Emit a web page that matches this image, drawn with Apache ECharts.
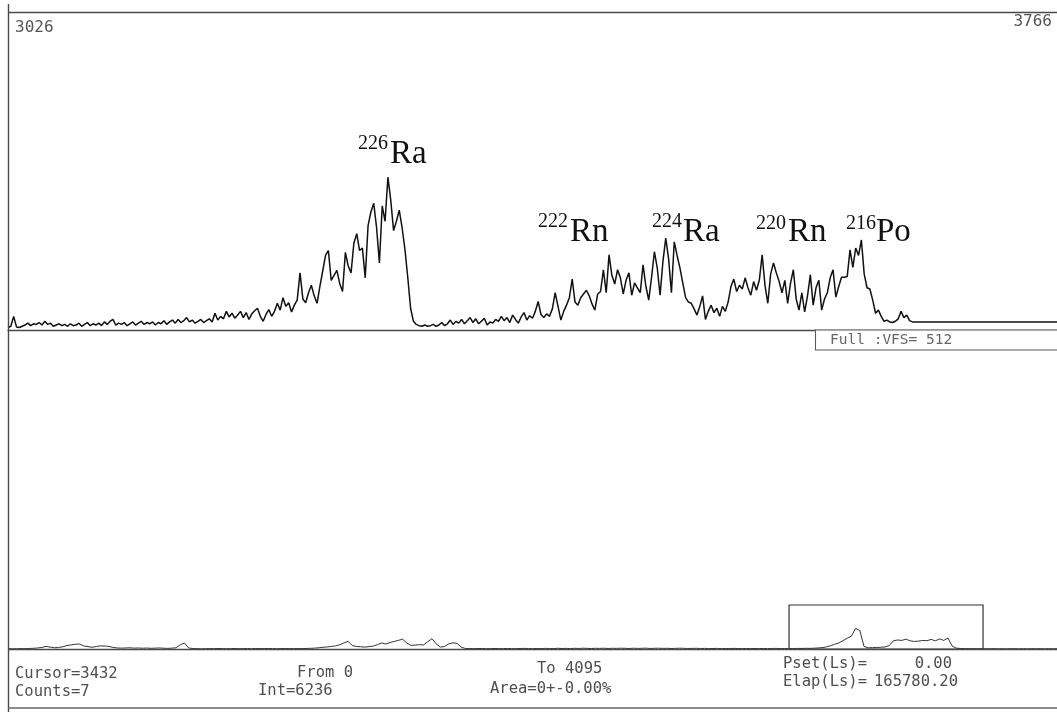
<!DOCTYPE html>
<html>
<head>
<meta charset="utf-8">
<title>Alpha spectrum</title>
<script src="https://cdn.jsdelivr.net/npm/echarts@6/dist/echarts.min.js"></script>
<style>
  html, body { margin: 0; padding: 0; background: #ffffff; }
  #chart { width: 1057px; height: 712px; }
</style>
</head>
<body>
<div id="chart"></div>
<script>
// ---- zoomed window of the spectrum (ADC channels, 2 channels per value) ----
const zoomFrom = 3026;
const zoomTo = 3766;
const zoomStep = 2;
const zoomCounts = [
  4, 6, 22, 5, 4, 6, 8, 11, 7, 10,
  9, 12, 8, 14, 9, 11, 6, 8, 10, 7,
  9, 6, 10, 7, 8, 11, 6, 9, 12, 7,
  10, 8, 11, 7, 13, 9, 14, 17, 8, 11,
  9, 12, 7, 10, 13, 8, 11, 14, 9, 12,
  10, 13, 8, 12, 10, 15, 9, 13, 16, 11,
  17, 12, 15, 20, 13, 16, 11, 14, 17, 12,
  15, 18, 13, 27, 16, 22, 18, 30, 21, 27,
  19, 24, 30, 20, 28, 17, 26, 31, 35, 22,
  14, 25, 33, 22, 30, 43, 32, 52, 38, 44,
  29, 40, 48, 92, 50, 44, 60, 72, 55, 43,
  70, 95, 120, 128, 80, 88, 96, 75, 62, 125,
  103, 92, 140, 155, 128, 132, 84, 168, 190, 204,
  165, 108, 200, 175, 246, 209, 160, 175, 193, 165,
  130, 85, 35, 14, 9, 7, 6, 8, 6, 7,
  9, 6, 8, 12, 7, 10, 16, 9, 14, 11,
  17, 10, 15, 20, 12, 18, 10, 14, 19, 8,
  13, 11, 17, 14, 22, 15, 20, 12, 24, 17,
  11, 21, 28, 16, 23, 19, 30, 46, 25, 20,
  26, 22, 34, 60, 38, 16, 30, 40, 52, 82,
  45, 40, 52, 58, 64, 55, 42, 32, 58, 62,
  97, 60, 121, 88, 74, 97, 84, 58, 80, 92,
  56, 76, 68, 60, 105, 70, 48, 85, 126, 100,
  56, 110, 148, 115, 60, 142, 120, 100, 76, 52,
  45, 43, 34, 24, 38, 55, 17, 30, 40, 28,
  35, 22, 38, 30, 45, 70, 82, 62, 72, 66,
  84, 68, 56, 78, 64, 80, 121, 72, 43, 90,
  108, 92, 78, 60, 80, 43, 75, 97, 50, 32,
  60, 29, 55, 89, 40, 68, 80, 32, 50, 60,
  84, 97, 53, 70, 85, 85, 86, 129, 101, 132,
  120, 145, 90, 68, 66, 48, 27, 32, 22, 14,
  16, 13, 12, 14, 18, 30, 20, 24, 15, 13,
  13, 13, 13, 13, 13, 13, 13, 13, 13, 13,
  13, 13, 13, 13, 13, 13, 13, 13, 13, 13,
  13, 13, 13, 13, 13, 13, 13, 13, 13, 13,
  13, 13, 13, 13, 13, 13, 13, 13, 13, 13,
  13, 13, 13, 13, 13, 13, 13, 13, 13, 13,
  13
];

// ---- full-range overview (channels 48..4080, 16 channels per value) ----
const overviewFrom = 48;
const overviewStep = 16;
const overviewCounts = [
  3, 4, 3, 5, 4, 6, 8, 12, 18, 30,
  22, 14, 18, 26, 40, 48, 56, 58, 36,
  28, 20, 30, 36, 34, 30, 18, 12, 10, 12,
  14, 10, 12, 9, 11, 8, 10, 12, 9, 7,
  10, 14, 50, 70, 12, 5, 4, 3,
  4, 5, 4, 6, 5, 4, 5, 6, 4, 5, 5, 4, 6, 5,
  5, 6, 5, 4, 5, 6, 5, 5, 6, 5, 6,
  8, 10, 14, 20, 24, 30, 36, 50, 70, 90,
  40, 30, 26, 22, 28, 34, 50, 70, 58, 75,
  88, 100, 115, 70, 42, 46, 50, 48, 85, 120, 60,
  22, 30, 60, 72, 66, 20, 6,
  5, 4, 6, 5, 4, 5, 6, 4, 5, 6,
  5, 4, 6, 7, 5, 4, 6, 5, 7, 6,
  5, 8, 6, 7, 5, 8, 6, 9, 7, 6,
  8, 7, 9, 6, 8,
  7, 9, 8, 6, 9, 7, 8, 10, 6, 8,
  9, 7, 8, 6, 7, 9, 8, 6, 7, 8,
  6, 7, 5, 6, 7, 5, 6, 5, 7, 6,
  5, 6, 5, 6, 5, 6, 5, 6, 7, 5,
  6, 5,
  5, 7, 6, 8, 7, 9, 12, 16, 24, 38,
  55, 70, 98, 125, 150, 240, 215, 30, 14, 16,
  18, 20, 24, 40, 95, 105, 100, 115, 95, 88,
  92, 100, 96, 112, 95, 118, 100, 128, 35, 10,
  6, 4,
  3, 4, 3, 4, 4, 3, 4, 3, 4, 3, 4, 4, 3, 4, 3, 4, 3, 4, 3, 4, 3, 4, 3, 4
];

// vertical full scale of the display
const fullScale = 512;
const overviewMax = 4095;

// peak annotations: mass number + element
const peakMass = ['226', '222', '224', '220', '216'];
const peakElement = ['Ra', 'Rn', 'Ra', 'Rn', 'Po'];

// status line read-outs
const cursorChannel = 3432;
const cursorCounts = 7;
const rangeFrom = 0;
const rangeTo = 4095;
const integral = 6236;
const areaText = '0+-0.00%';
const presetLive = '0.00';
const elapsedLive = '165780.20';

const zoomData = zoomCounts.map((c, i) => [zoomFrom + i * zoomStep, c]);
const overviewData = overviewCounts.map((c, i) => [overviewFrom + i * overviewStep, c]);

const chart = echarts.init(document.getElementById('chart'), null, { renderer: 'canvas' });

const INK = '#111111';
const FRAME = '#4a4a4a';
const MONO = '"DejaVu Sans Mono", "Liberation Mono", monospace';
const SERIF = '"Liberation Serif", "Times New Roman", serif';

// label placement (left edge of mass number / element, baselines)
const peakLayout = [
  { sx: 358, sy: 150, ex: 390, ey: 165 },
  { sx: 538, sy: 228, ex: 570, ey: 243 },
  { sx: 652, sy: 228, ex: 683, ey: 243 },
  { sx: 756, sy: 230, ex: 788, ey: 243 },
  { sx: 846, sy: 230, ex: 876, ey: 243 }
];
const SUP_SIZE = 20, EL_SIZE = 33;

function txt(x, y, text, size, family, align, color) {
  return {
    type: 'text', x: x, y: y, silent: true, z: 10,
    style: {
      text: text, font: size + 'px ' + family, fill: color || '#4f4f4f',
      textAlign: align || 'left', textVerticalAlign: 'middle'
    }
  };
}
function hline(x1, x2, y, w, c) {
  return { type: 'line', silent: true, z: 5,
    shape: { x1: x1, y1: y, x2: x2, y2: y },
    style: { stroke: c || FRAME, lineWidth: w || 1.2 } };
}

const graphics = [];
// outer frame and overview baseline
graphics.push({ type: 'line', silent: true, z: 5,
  shape: { x1: 8.5, y1: 4, x2: 8.5, y2: 712 }, style: { stroke: FRAME, lineWidth: 1.4 } });
graphics.push(hline(8, 1057, 12.5, 1.6));
graphics.push(hline(8, 1057, 708, 1.4, '#666'));
graphics.push(hline(8, 1057, 649.5, 1.4));

// range extents of the zoom window
graphics.push(txt(15, 28, String(zoomFrom), 16, MONO, 'left', '#555'));
graphics.push(txt(1052, 22, String(zoomTo), 16, MONO, 'right', '#555'));

// peak labels
peakMass.forEach((m, k) => {
  const p = peakLayout[k];
  graphics.push(txt(p.sx, p.sy - 0.31 * SUP_SIZE, m, SUP_SIZE, SERIF, 'left', INK));
  graphics.push(txt(p.ex, p.ey - 0.31 * EL_SIZE, peakElement[k], EL_SIZE, SERIF, 'left', INK));
});

// vertical full-scale box
graphics.push({ type: 'rect', silent: true, z: 6,
  shape: { x: 815.5, y: 330, width: 260, height: 20 },
  style: { fill: '#ffffff', stroke: '#5a5a5a', lineWidth: 1.1 } });
graphics.push(txt(830, 340, 'Full :VFS= ' + fullScale, 14.5, MONO, 'left', '#666'));

// status read-outs
graphics.push(txt(15, 674, 'Cursor=' + cursorChannel, 15.5, MONO, 'left'));
graphics.push(txt(15, 692, 'Counts=' + cursorCounts, 15.5, MONO, 'left'));
graphics.push(txt(297, 673, 'From ' + rangeFrom, 15.5, MONO, 'left'));
graphics.push(txt(258, 691, 'Int=' + integral, 15.5, MONO, 'left'));
graphics.push(txt(537, 669, 'To ' + rangeTo, 15.5, MONO, 'left'));
graphics.push(txt(490, 689, 'Area=' + areaText, 15.5, MONO, 'left'));
graphics.push(txt(783, 664, 'Pset(Ls)=', 15.5, MONO, 'left'));
graphics.push(txt(952, 664, presetLive, 15.5, MONO, 'right'));
graphics.push(txt(783, 682, 'Elap(Ls)=', 15.5, MONO, 'left'));
graphics.push(txt(958, 682, elapsedLive, 15.5, MONO, 'right'));

const option = {
  animation: false,
  backgroundColor: '#ffffff',
  grid: [
    { left: 8, width: 1049, top: 12, height: 318, outerBoundsMode: 'none' },
    { left: -4.3, width: 1073.6, top: 605, height: 44, outerBoundsMode: 'none' }
  ],
  xAxis: [
    { type: 'value', gridIndex: 0, min: zoomFrom, max: zoomTo,
      axisLine: { show: true, onZero: false, lineStyle: { color: FRAME, width: 1.4 } },
      axisTick: { show: false }, axisLabel: { show: false }, splitLine: { show: false } },
    { type: 'value', gridIndex: 1, min: 0, max: overviewMax,
      axisLine: { show: false },
      axisTick: { show: false }, axisLabel: { show: false }, splitLine: { show: false } }
  ],
  yAxis: [
    { type: 'value', gridIndex: 0, min: 0, max: fullScale, show: false },
    { type: 'value', gridIndex: 1, min: 0, max: fullScale, show: false }
  ],
  series: [
    { type: 'line', xAxisIndex: 0, yAxisIndex: 0, data: zoomData,
      showSymbol: false, silent: true, clip: true,
      lineStyle: { color: INK, width: 1.5 } },
    { type: 'line', xAxisIndex: 1, yAxisIndex: 1, data: overviewData,
      showSymbol: false, silent: true, clip: true,
      lineStyle: { color: '#333333', width: 1 },
      markArea: {
        silent: true,
        itemStyle: { color: 'rgba(0,0,0,0)', borderColor: '#333333', borderWidth: 1.2 },
        data: [[{ xAxis: zoomFrom }, { xAxis: zoomTo }]]
      } }
  ],
  graphic: { elements: graphics }
};

chart.setOption(option);
</script>
</body>
</html>
